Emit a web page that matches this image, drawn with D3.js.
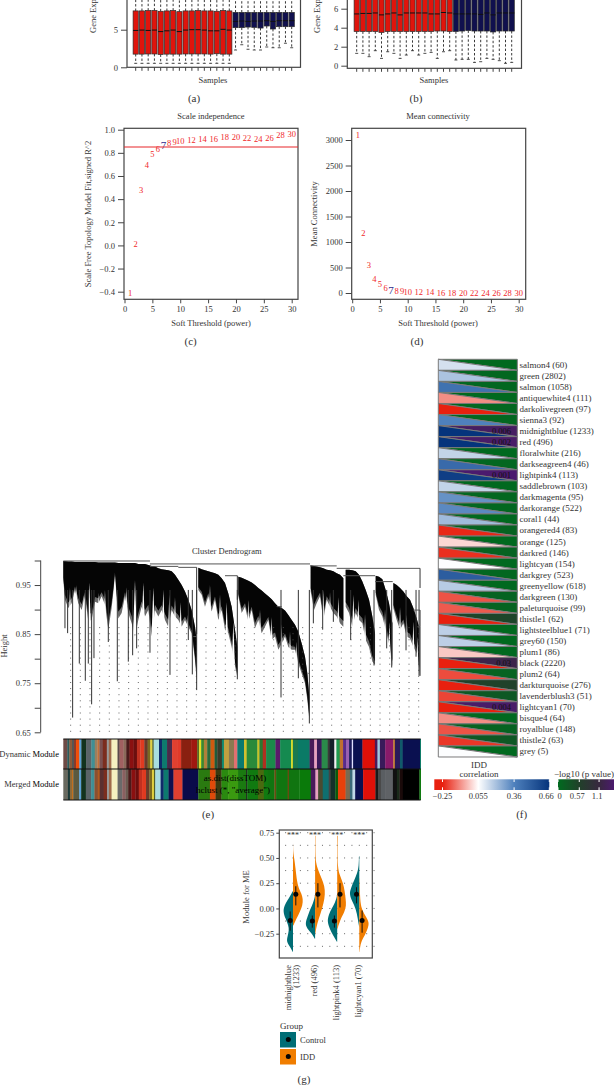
<!DOCTYPE html>
<html>
<head>
<meta charset="utf-8">
<script src="https://cdn.jsdelivr.net/npm/d3@7"></script>
<style>
  html, body { margin: 0; padding: 0; background: #fff; overflow: hidden; }
  svg { display: block; }
  text { font-family: "Liberation Serif", serif; fill: #333; font-size: 8.5px; }
  .tick line, .frame { stroke: #444; }
  .frame { fill: none; stroke-width: 1.2; }
  .caption { font-size: 11px; }
</style>
</head>
<body>
<svg id="chart" width="614" height="1085"></svg>
<script>
// Panel (a) and (b): boxplots, one value per sample
const aMedian = [4.9,4.95,4.9,4.95,4.75,4.85,4.95,4.75,4.95,5,5,4.95,4.85,4.85,5.05,4.95,6.1,6.15,6.1,6.15,6.15,6.2,6.1,6.2,6.2,6.2];
const aQ1 = [1.75,1.75,1.77,1.77,1.7,1.75,1.75,1.75,1.77,1.77,1.77,1.77,1.75,1.8,1.75,1.75,5.27,5.27,5.35,5.31,5.22,5.49,5.09,5.4,5.4,5.4];
const aQ3 = [7.5,7.5,7.55,7.55,7.45,7.5,7.55,7.4,7.5,7.5,7.55,7.5,7.5,7.45,7.55,7.5,7.3,7.3,7.3,7.3,7.3,7.3,7.3,7.3,7.3,7.3];
const aLow = [.53,.53,.53,.53,.53,.53,.53,.53,.53,.53,.53,.53,.53,.53,.53,.53,2.3,3,2.4,2.3,2.3,2.7,2.6,2.6,3.2,2.6];
const bMedian = [5.45,5.5,5.5,5.55,5.35,5.45,5.55,5.35,5.55,5.55,5.55,5.55,5.45,5.45,5.6,5.55,5.45,5.45,5.45,5.45,5.4,5.55,5.35,5.55,5.55,5.55];
const bQ1 = [3.6,3.6,3.6,3.6,3.5,3.6,3.6,3.6,3.6,3.6,3.6,3.6,3.6,3.65,3.65,3.6,3.6,3.65,3.7,3.65,3.65,3.65,3.55,3.65,3.65,3.65];
const bQ3 = [7.4,7.4,7.4,7.4,7.4,7.4,7.4,7.4,7.4,7.4,7.4,7.4,7.4,7.4,7.4,7.4,7.4,7.4,7.4,7.4,7.4,7.4,7.4,7.4,7.4,7.4];
const bLow = [1.3,1.3,.95,1.58,.77,1.47,1.3,.77,1.12,1.58,1.12,1.3,1.4,.77,1.47,1.58,.6,.67,.67,.35,.42,.77,.67,.53,.25,.35];
const redSamples = 16;

// Panel (c) and (d)
const powers = [1,2,3,4,5,6,7,8,9,10,12,14,16,18,20,22,24,26,28,30];
const scaleFit = [-.417,.01,.48,.695,.785,.83,.866,.88,.89,.9,.91,.917,.92,.935,.935,.93,.92,.93,.953,.96];
const meanConn = [3100,1170,540,280,170,100,60,40,30,18,8,6,5,4,3,2,2,1,1,1];

// Panel (e): dendrogram as [leaf, top height, bottom height]
const ridgeA = [[0,.999,.961],[5,.999,.92],[15,.998,.903],[25,.998,.913],[35,.997,.94],[45,.997,.913],[55,.997,.899],[65,.997,.927],[75,.997,.876],[85,.997,.879],[95,.997,.916],[105,.996,.913],[115,.996,.927],[125,.996,.91],[135,.996,.859],[145,.996,.903],[155,.996,.967],[165,.995,.882],[175,.995,.893],[185,.995,.927],[195,.995,.893],[205,.995,.872],[215,.995,.845],[225,.993,.879],[235,.993,.906],[245,.993,.886],[255,.991,.899],[265,.989,.845],[275,.988,.899],[285,.984,.886],[295,.982,.899],[305,.981,.879],[315,.98,.865],[325,.978,.899],[335,.971,.886],[345,.961,.879],[355,.95,.865],[365,.937,.879],[375,.92,.865],[385,.899,.852],[395,.865,.797],[400,.838,.756]];
const ridgeB = [[405,.985,.94],[415,.982,.93],[425,.98,.906],[435,.978,.927],[445,.976,.896],[455,.974,.92],[465,.971,.879],[475,.964,.899],[485,.954,.859],[495,.933,.852],[505,.906,.824],[515,.859,.784],[522,.824,.763]];
const ridgeC = [[525,.967,.927],[535,.965,.893],[545,.962,.906],[555,.959,.876],[565,.955,.899],[575,.95,.862],[585,.944,.879],[595,.939,.852],[605,.933,.865],[615,.927,.879],[625,.921,.838],[635,.913,.845],[645,.906,.818],[655,.903,.831],[665,.898,.845],[675,.889,.824],[685,.879,.818],[695,.869,.818],[705,.855,.79],[715,.831,.77],[725,.804,.75],[732,.77,.716],[738,.722,.675]];
const ridgeD = [[742,.99,.937],[752,.989,.899],[760,.988,.913],[770,.986,.927],[780,.984,.879],[790,.981,.92],[800,.98,.906],[810,.978,.893],[820,.974,.886],[830,.971,.872],[840,.964,.865]];
const ridgeE = [[847,.981,.906],[857,.981,.893],[867,.98,.865],[877,.978,.893],[887,.971,.879],[897,.957,.872],[907,.94,.838],[917,.92,.824],[927,.886,.794],[935,.852,.787]];
const ridgeF = [[937,.969,.93],[947,.967,.899],[957,.962,.886],[967,.94,.859],[977,.913,.831],[987,.872,.784]];
const ridgeG = [[990,.954,.903],[1000,.95,.879],[1010,.944,.859],[1020,.937,.872],[1030,.927,.845],[1040,.92,.841],[1050,.903,.824],[1060,.882,.811],[1068,.862,.77]];
// gaps between branches: [leaf, height the gap reaches up to]
const dendroGaps = [[20,.945],[40,.95],[60,.93],[78,.955],[105,.935],[125,.94],[155,.975],[190,.945],[215,.96],[240,.955],[270,.945],[300,.94],[318,.93],[335,.925],[352,.915],[372,.89],[440,.95],[470,.93],[490,.915],[510,.875],[555,.92],[590,.9],[625,.885],[655,.87],[680,.855],[700,.835],[780,.94],[800,.935],[825,.925],[870,.93],[885,.92],[905,.89],[965,.9],[978,.875],[1010,.905],[1030,.89],[1050,.875],[1062,.845]];
const dendroSpikes = [[5,.862],[13,.852],[28,.68],[48,.79],[66,.755],[75,.79],[85,.707],[92,.801],[135,.834],[162,.754],[195,.794],[208,.807],[220,.821],[260,.812],[320,.767],[375,.838],[387,.768],[400,.736],[522,.758],[653,.721],[705,.76],[738,.668],[932,.786],[985,.782],[1067,.765],[750,.872],[778,.859],[862,.838],[970,.821],[1028,.817],[1058,.804],[810,.875]];
const dendroJoins = [[0,260,.999],[260,740,.993],[820,1070,.984],[740,820,.989],[260,345,.988],[345,400,.986],[485,522,.969],[840,935,.969],[935,988,.957],[1050,1070,.899],[1062,1070,.865],[640,655,.906],[735,740,.77],[390,400,.845]];
const dendroDrops = [[1070,.984,.944],[1070,.899,.865],[1070,.865,.765],[400,.986,.85],[522,.969,.92]];

// Module colour bars as runs of [colour, leaves]
const dynamicRuns = [["#6e4a45",12],["#2a5a5a",6],["#8a5a3a",8],["#555555",6],["#8a3a2a",6],["#f04e0a",10],["#5aa0d8",6],["#12331e",14],["#5a6468",16],["#3f8f95",10],["#9a8060",8],["#c0703a",6],["#7a5050",10],["#7b2d1e",12],["#999999",6],["#a06a4a",8],["#f5f0c0",18],["#5a4a4a",6],["#a06060",12],["#8a6a5a",8],["#4a1a1a",10],["#8a1010",12],["#6b0f0f",10],["#c03020",10],["#e03a20",12],["#6a3a2a",10],["#7a6a20",8],["#e0d040",6],["#50602a",4],["#a8dde0",16],["#102a6a",9],["#0d7a6e",15],["#4a2a4a",15],["#e04030",15],["#e03a2a",12],["#8a2010",30],["#a01810",18],["#5a6a20",6],["#e8e020",6],["#3a8a30",8],["#b0803a",10],["#2a6a3a",10],["#d05a10",12],["#205a3a",8],["#3a3a2a",14],["#108a70",6],["#c0a040",15],["#8a7a50",15],["#e07070",10],["#0a7a70",20],["#d0c030",8],["#2a8a3a",32],["#c8c020",6],["#2a7a30",10],["#b03020",10],["#1a8a4a",28],["#5a1a6a",14],["#158a50",33],["#e0e020",5],["#1a7a50",15],["#0a7a66",35],["#4a1a5a",14],["#e8a0c0",8],["#3a1a5a",14],["#2a8a4a",18],["#3a3a3a",6],["#15202a",14],["#f0f0f0",6],["#209a50",10],["#c07030",10],["#5a2a8a",10],["#9a60b0",8],["#1a1a5a",8],["#e0e0ff",4],["#0a1050",28],["#e01008",37],["#4a1a5a",8],["#a0c8e0",7],["#3a1a5a",16],["#8a1a6a",24],["#c07a30",5],["#2a1a5a",15],["#105a6a",8],["#0a1050",52],["#0a7a66",2]];
const mergedRuns = [["#6a6a60",14],["#1a3a3a",6],["#8a6a3a",6],["#c07020",4],["#5a5a40",18],["#5aa0d8",6],["#12331e",14],["#5a6468",16],["#3f8f95",10],["#8a5030",10],["#b05a20",6],["#5a3030",12],["#7b2d1e",10],["#999999",6],["#a06a4a",8],["#f5f0c0",18],["#6a6a6a",14],["#8a6060",10],["#6a5a50",8],["#4a1a1a",10],["#8a1010",12],["#6b0f0f",10],["#c03020",10],["#e03a20",12],["#6a3a2a",10],["#7a6a20",8],["#e0d040",6],["#50602a",4],["#a8dde0",16],["#102a6a",9],["#0d7a6e",15],["#101050",15],["#e04030",27],["#0a0a4a",48],["#2a7a10",35],["#e04a0a",17],["#3a3a10",18],["#2a8a10",20],["#3a9a10",30],["#1a7a10",25],["#000000",3],["#107a10",32],["#4a6a10",18],["#107a10",12],["#107510",20],["#6a4a10",5],["#107510",35],["#6a4a10",4],["#107510",31],["#0a7a0a",35],["#4a1a5a",14],["#e8a0c0",8],["#4a4a30",14],["#0f6f6f",18],["#444444",6],["#15302a",14],["#0a5a0a",8],["#e8400a",23],["#7a6a50",13],["#3a6a7a",8],["#c0d8e8",8],["#0a1050",24],["#e01008",37],["#1a1a1a",8],["#4a4a4a",9],["#5a5e62",14],["#5f6266",22],["#111111",12],["#1a2a1a",8],["#1a0a0a",10],["#000000",50],["#107a10",4]];

// Panel (f)
const modules = ["salmon4 (60)","green (2802)","salmon (1058)","antiquewhite4 (111)","darkolivegreen (97)","sienna3 (92)","midnightblue (1233)","red (496)","floralwhite (216)","darkseagreen4 (46)","lightpink4 (113)","saddlebrown (103)","darkmagenta (95)","darkorange (522)","coral1 (44)","orangered4 (83)","orange (125)","darkred (146)","lightcyan (154)","darkgrey (523)","greenyellow (618)","darkgreen (130)","paleturquoise (99)","thistle1 (62)","lightsteelblue1 (71)","grey60 (150)","plum1 (86)","black (2220)","plum2 (64)","darkturquoise (276)","lavenderblush3 (51)","lightcyan1 (70)","bisque4 (64)","royalblue (148)","thistle2 (63)","grey (5)"];
const moduleCorr = [.13,.2,.42,-.1,-.25,.36,.66,.66,.16,.45,.62,.16,.32,.34,.22,-.24,0,-.23,.06,.5,.18,-.18,-.17,-.25,.17,.17,-.02,-.25,-.19,-.25,-.2,-.25,-.1,-.18,-.22,.06];
const moduleLogP = [.02,.05,.05,.02,.05,.05,1.4,1.45,.02,.05,1.5,.02,.05,.05,.02,.1,.02,.1,.02,.05,.02,.1,.1,.5,.02,.02,.02,1.2,.1,.55,.25,1.45,.02,.1,.25,.02];
const moduleP = {"midnightblue (1233)":"0.006","red (496)":"0.002","lightpink4 (113)":"0.001","black (2220)":"0.03","lightcyan1 (70)":"0.004"};
const corrStops = [-.25,.055,.36,.66];
const corrColors = ["#e8200f","#ffffff","#4f81bd","#05347c"];
const logPStops = [0,.57,1.1,1.5];
const logPColors = ["#006b1f","#21402a","#38283f","#4b1a6e"];

// Panel (g): half violins as [value, relative density]
const violinGroups = ["midnightblue","red","lightpink4","lightcyan1"];
const violinControl = [
  [[-.43,.02],[-.38,.3],[-.33,.65],[-.28,.55],[-.22,.4],[-.17,.45],[-.1,.75],[-.03,1],[.03,.85],[.08,.55],[.13,.25],[.17,.03]],
  [[-.3,.03],[-.25,.3],[-.2,.8],[-.15,1],[-.08,.75],[-.02,.55],[.03,.3],[.08,.12],[.12,.02]],
  [[-.33,.03],[-.27,.4],[-.2,.75],[-.13,1],[-.06,.85],[0,.55],[.06,.2],[.12,.03]],
  [[-.18,.02],[-.1,.15],[0,.35],[.07,.7],[.14,1],[.2,.85],[.28,.5],[.35,.2],[.42,.05],[.52,.03]]
];
const violinIDD = [
  [[-.17,.03],[-.1,.35],[-.03,.7],[.03,.95],[.09,1],[.15,.85],[.2,.55],[.3,.35],[.4,.25],[.5,.12],[.55,.02],[.65,0]],
  [[-.25,.02],[-.15,.2],[-.05,.55],[.05,.85],[.14,1],[.22,.95],[.3,.65],[.38,.3],[.45,.08],[.55,.03],[.72,.04]],
  [[-.2,.03],[-.1,.35],[-.03,.75],[.03,.9],[.09,.85],[.17,.75],[.25,.6],[.33,.25],[.4,.05],[.6,.04],[.72,.06]],
  [[-.43,.02],[-.33,.15],[-.27,.55],[-.2,.85],[-.14,1],[-.08,.65],[-.02,.3],[.05,.1],[.2,.05],[.3,.02]]
];
const controlMedian = [-.12,-.125,-.125,.14];
const controlRange = [[-.22,-.03],[-.19,-.07],[-.19,-.07],[.05,.21]];
const iddMedian = [.14,.14,.14,-.12];
const iddRange = [[.03,.22],[.01,.25],[.01,.25],[-.24,-.02]];

const svg = d3.select("#chart");

// Small helpers
function label(x, y, txt, opts = {}) {
  const t = svg.append("text")
    .attr("x", x).attr("y", y)
    .attr("text-anchor", opts.anchor || "middle")
    .text(txt);
  if (opts.size) t.style("font-size", opts.size + "px");
  if (opts.fill) t.style("fill", opts.fill);
  if (opts.cls) t.attr("class", opts.cls);
  return t;
}
function vlabel(x, y, txt, anchor = "middle") {
  return svg.append("text")
    .attr("transform", `translate(${x},${y}) rotate(-90)`)
    .attr("text-anchor", anchor)
    .text(txt);
}
function frame(x0, y0, x1, y1) {
  svg.append("rect").attr("class", "frame")
    .attr("x", x0).attr("y", y0).attr("width", x1 - x0).attr("height", y1 - y0);
}
function leftAxis(x, scale, ticks, fmt) {
  const g = svg.append("g").attr("transform", `translate(${x},0)`)
    .call(d3.axisLeft(scale).tickValues(ticks).tickSize(6).tickPadding(3).tickFormat(fmt || d3.format("")));
  g.select(".domain").remove();
  return g;
}
function bottomAxis(y, scale, ticks) {
  const g = svg.append("g").attr("transform", `translate(0,${y})`)
    .call(d3.axisBottom(scale).tickValues(ticks).tickSize(4).tickPadding(3).tickFormat(d3.format("")));
  g.select(".domain").remove();
  return g;
}

// Boxplots for (a) and (b)
function boxes(xRange, yScale, frameBottom, median, q1, q3, low) {
  const x = d3.scalePoint().domain(d3.range(median.length)).range(xRange);
  const g = svg.append("g");
  const boxW = 5.2;
  median.forEach((m, i) => {
    const cx = x(i);
    const fill = i < redSamples ? "#e0140c" : "#10104e";
    // whiskers run off the top of the page
    g.append("line").attr("x1", cx).attr("x2", cx).attr("y1", yScale(q3[i])).attr("y2", -5)
      .attr("stroke", "#222").attr("stroke-width", .9).attr("stroke-dasharray", "2.4,2");
    g.append("line").attr("x1", cx).attr("x2", cx).attr("y1", yScale(q1[i])).attr("y2", yScale(low[i]))
      .attr("stroke", "#222").attr("stroke-width", .9).attr("stroke-dasharray", "2.4,2");
    g.append("line").attr("x1", cx - 1.5).attr("x2", cx + 1.5).attr("y1", yScale(low[i])).attr("y2", yScale(low[i]))
      .attr("stroke", "#222").attr("stroke-width", .8);
    g.append("rect").attr("x", cx - boxW / 2).attr("width", boxW)
      .attr("y", yScale(q3[i])).attr("height", yScale(q1[i]) - yScale(q3[i]))
      .attr("fill", fill).attr("stroke", "#2a2a2a").attr("stroke-width", .7);
    g.append("line").attr("x1", cx - boxW / 2).attr("x2", cx + boxW / 2).attr("y1", yScale(m)).attr("y2", yScale(m))
      .attr("stroke", "#111").attr("stroke-width", 1);
    g.append("line").attr("x1", cx).attr("x2", cx).attr("y1", frameBottom).attr("y2", frameBottom + 3.5)
      .attr("stroke", "#444");
  });
}

// Panel (a)
const yA = d3.scaleLinear().domain([0, 5]).range([67.3, 29.7]);
boxes([135.7, 291.7], yA, 67.3, aMedian, aQ1, aQ3, aLow);
frame(127, -5, 300.5, 67.3);
leftAxis(127, yA, [0, 5]);
vlabel(96, 33, "Gene Exp", "start");
label(213, 83, "Samples");
label(194, 102, "(a)", { cls: "caption" });

// Panel (b)
const yB = d3.scaleLinear().domain([0, 6]).range([65.7, 8.7]);
boxes([356.7, 511.7], yB, 68.3, bMedian, bQ1, bQ3, bLow);
frame(347.3, -5, 521.5, 68.3);
leftAxis(347.3, yB, [0, 2, 4, 6]);
vlabel(320, 33, "Gene Exp", "start");
label(434, 83, "Samples");
label(416, 102, "(b)", { cls: "caption" });

// Power scatter for (c) and (d)
function powerPlot(x0, x1, title, titleX, yScale, yTicks, yTitle, yTitleX, values, yFmt) {
  const x = d3.scaleLinear().domain([0, 30]).range([x0 + 0.5, x1]);
  const right = x0 + 174;
  frame(x0, 128.3, right, 299.3);
  leftAxis(x0, yScale, yTicks, yFmt);
  bottomAxis(299.3, x, d3.range(0, 31, 5));
  label(titleX, 119, title);
  label(titleX, 326, "Soft Threshold (power)");
  vlabel(yTitleX, 214, yTitle);
  svg.append("g").selectAll("text").data(powers).join("text")
    .attr("x", d => x(d))
    .attr("y", (d, i) => yScale(values[i]))
    .attr("dy", "0.33em")
    .attr("text-anchor", "middle")
    .style("fill", d => d === 7 ? "#2c2c8c" : "#f0282a")
    .style("font-size", d => d === 7 ? "11px" : "8.5px")
    .text(d => d);
  return right;
}
const yC = d3.scaleLinear().domain([-.4, 1]).range([291.7, 129.7]);
const rightC = powerPlot(124, 291.7, "Scale independence", 211, yC, [-.4,-.2,0,.2,.4,.6,.8,1], "Scale Free Topology Model Fit,signed R^2", 91, scaleFit, d => d3.format(".1f")(d).replace("-", "\u2212"));
svg.append("line").attr("x1", 124).attr("x2", rightC).attr("y1", yC(.85)).attr("y2", yC(.85))
  .attr("stroke", "#e8262a").attr("stroke-width", 1.1);
label(190.7, 345, "(c)", { cls: "caption" });

const yD = d3.scaleLinear().domain([0, 3000]).range([293, 140]);
powerPlot(351.7, 518.7, "Mean connectivity", 438, yD, d3.range(0, 3001, 500), "Mean Connectivity", 317, meanConn);
label(417, 345, "(d)", { cls: "caption" });

// Panel (e)
const leafX = d3.scaleLinear().domain([0, 1072]).range([63.3, 420.7]);
const heightY = d3.scaleLinear().domain([.65, 1]).range([732.3, 560.5]);
const dendro = svg.append("g");

const ridges = [ridgeA, ridgeB, ridgeC, ridgeD, ridgeE, ridgeF, ridgeG];
const ridgeGrey = d3.area().x(d => leafX(d[0])).y0(d => heightY(d[2])).y1(d => heightY(d[1]));
const ridgeBlack = d3.area().x(d => leafX(d[0]))
  .y0(d => heightY(d[2] + (d[1] - d[2]) * .12)).y1(d => heightY(d[1]));
dendro.selectAll("path.grey").data(ridges).join("path").attr("class", "grey").attr("d", ridgeGrey).attr("fill", "#6a6a6a");
dendro.selectAll("path.black").data(ridges).join("path").attr("class", "black").attr("d", ridgeBlack).attr("fill", "#050505");
// white gaps between the branches
dendro.selectAll("path.gap").data(dendroGaps).join("path")
  .attr("class", "gap")
  .attr("d", d => `M${leafX(d[0] - 6)},${heightY(d[1] - .11)}L${leafX(d[0])},${heightY(d[1])}L${leafX(d[0] + 6)},${heightY(d[1] - .11)}Z`)
  .attr("fill", "#fff");
// dotted guides on top of the white
dendro.selectAll("line.guide").data(d3.range(22, 1072, 29)).join("line")
  .attr("class", "guide")
  .attr("x1", d => leafX(d)).attr("x2", d => leafX(d))
  .attr("y1", heightY(.651)).attr("y2", heightY(.87))
  .attr("stroke", "#555").attr("stroke-width", .9).attr("stroke-dasharray", "1,5.1");
dendro.selectAll("line.spike").data(dendroSpikes).join("line")
  .attr("class", "spike")
  .attr("x1", d => leafX(d[0])).attr("x2", d => leafX(d[0]))
  .attr("y1", d => heightY(.94)).attr("y2", d => heightY(d[1]))
  .attr("stroke", "#333").attr("stroke-width", 1);
dendro.selectAll("line.join").data(dendroJoins).join("line")
  .attr("class", "join")
  .attr("x1", d => leafX(d[0])).attr("x2", d => leafX(d[1]))
  .attr("y1", d => heightY(d[2])).attr("y2", d => heightY(d[2]))
  .attr("stroke", "#555").attr("stroke-width", 1);
dendro.selectAll("line.drop").data(dendroDrops).join("line")
  .attr("class", "drop")
  .attr("x1", d => leafX(d[0])).attr("x2", d => leafX(d[0]))
  .attr("y1", d => heightY(d[1])).attr("y2", d => heightY(d[2]))
  .attr("stroke", "#333").attr("stroke-width", 1);

const axisE = leftAxis(40.7, heightY, d3.range(.65, 1.01, .05), d => [.65, .75, .85, .95].some(v => Math.abs(v - d) < 1e-6) ? d3.format(".2f")(d) : "");
svg.append("line").attr("x1", 40.7).attr("x2", 40.7).attr("y1", heightY(1)).attr("y2", heightY(.65)).attr("stroke", "#444");
axisE.selectAll("text").attr("x", -10);
label(226.7, 554, "Cluster Dendrogram");
vlabel(7, 646, "Height");

function colourBar(runs, y0, y1) {
  const total = d3.sum(runs, d => d[1]);
  const x = d3.scaleLinear().domain([0, total]).range([63.3, 420.7]);
  let pos = 0;
  const cells = runs.map(d => { const c = { color: d[0], from: pos, to: pos + d[1] }; pos += d[1]; return c; });
  svg.append("g").selectAll("rect").data(cells).join("rect")
    .attr("x", d => x(d.from)).attr("width", d => x(d.to) - x(d.from) + .3)
    .attr("y", y0).attr("height", y1 - y0)
    .attr("fill", d => d.color);
}
colourBar(dynamicRuns, 739, 769);
colourBar(mergedRuns, 769, 800);
[739, 769, 800].forEach(y => {
  svg.append("line").attr("x1", 63.3).attr("x2", 420.7).attr("y1", y).attr("y2", y).attr("stroke", "#111").attr("stroke-width", 1.2);
});
[["Dynamic ", 757], ["Merged ", 787]].forEach(([word, y]) => {
  const t = label(59, y, word, { anchor: "end" });
  t.append("tspan").style("fill", "#000").text("Module");
});
label(235, 781, "as.dist(dissTOM)", { fill: "#000", size: 9 });
label(233, 793, "hclust (*, \"average\")", { fill: "#000", size: 9 });
label(208, 818, "(e)", { cls: "caption" });

// Panel (f)
const rowY = d3.scaleBand().domain(modules).range([359.3, 757]);
const cellX0 = 438.3, cellX1 = 517.3;
const corrColor = d3.scaleLinear().domain(corrStops).range(corrColors).clamp(true);
const logPColor = d3.scaleLinear().domain(logPStops).range(logPColors).clamp(true);
const heat = svg.append("g").selectAll("g").data(modules).join("g")
  .attr("transform", d => `translate(0,${rowY(d)})`);
const rh = rowY.bandwidth();
heat.append("path")
  .attr("d", `M${cellX0},0L${cellX1},0L${cellX1},${rh}Z`)
  .attr("fill", (d, i) => logPColor(moduleLogP[i]))
  .attr("stroke", "#7a7a7a").attr("stroke-width", 1);
heat.append("path")
  .attr("d", `M${cellX0},0L${cellX0},${rh}L${cellX1},${rh}Z`)
  .attr("fill", (d, i) => corrColor(moduleCorr[i]))
  .attr("stroke", "#7a7a7a").attr("stroke-width", 1);
heat.append("text").attr("x", 519.5).attr("y", rh / 2).attr("dy", "0.33em")
  .style("font-size", "9px").text(d => d);
heat.filter(d => moduleP[d]).append("text")
  .attr("x", 511).attr("y", rh / 2).attr("dy", "0.33em")
  .attr("text-anchor", "end").style("fill", "#111").style("font-size", "8.5px")
  .text(d => moduleP[d]);

// Legends of (f)
const defs = svg.append("defs");
function gradient(id, scale, colorScale, stops) {
  const g = defs.append("linearGradient").attr("id", id);
  const [lo, hi] = scale.domain();
  stops.forEach(s => g.append("stop")
    .attr("offset", (s - lo) / (hi - lo))
    .attr("stop-color", colorScale(s)));
}
const corrLegend = d3.scaleLinear().domain([-.32, .66]).range([434.3, 549.3]);
const pLegend = d3.scaleLinear().domain([0, 1.5]).range([558, 614]);
gradient("corrGrad", corrLegend, corrColor, [-.32, ...corrStops]);
gradient("pGrad", pLegend, logPColor, logPStops);
svg.append("rect").attr("x", 434.3).attr("y", 779.3).attr("width", 115).attr("height", 10.7).attr("fill", "url(#corrGrad)");
svg.append("rect").attr("x", 558).attr("y", 779.3).attr("width", 56).attr("height", 10.7).attr("fill", "url(#pGrad)");
[-.25, .055, .36, .66].forEach(v => {
  svg.append("line").attr("x1", corrLegend(v)).attr("x2", corrLegend(v)).attr("y1", 779.3).attr("y2", 782).attr("stroke", "#fff");
  svg.append("line").attr("x1", corrLegend(v)).attr("x2", corrLegend(v)).attr("y1", 787.3).attr("y2", 790).attr("stroke", "#fff");
  label(corrLegend(v) - (v === .66 ? 3 : 0), 799, d3.format(v === .055 ? ".3f" : ".2f")(v).replace("-", "\u2212"));
});
[0, .57, 1.1].forEach(v => {
  svg.append("line").attr("x1", pLegend(v)).attr("x2", pLegend(v)).attr("y1", 779.3).attr("y2", 782).attr("stroke", "#fff");
  svg.append("line").attr("x1", pLegend(v)).attr("x2", pLegend(v)).attr("y1", 787.3).attr("y2", 790).attr("stroke", "#fff");
  label(pLegend(v) + (v === 0 ? 1.5 : -2), 799, v);
});
label(479, 768, "IDD", { size: 9 });
label(479, 777, "correlation", { size: 9 });
label(584, 777, "\u2212log10 (p value)", { size: 9 });
label(521.7, 818, "(f)", { cls: "caption" });

// Panel (g)
const xG = d3.scalePoint().domain(violinGroups).range([293, 359.3]);
const yG = d3.scaleLinear().domain([-.25, .75]).range([933.7, 832.7]);
const gridX = d3.range(-1, 12).map(k => 293 + (k * 66.3) / 9);
const gridY = d3.range(-.375, .76, .125);
svg.append("g").selectAll("rect").data(d3.cross(gridX, gridY)).join("rect")
  .attr("x", d => d[0] - .5).attr("y", d => yG(d[1]) - .5)
  .attr("width", 1).attr("height", 1).attr("fill", "#666");
const densityW = d3.scaleLinear().domain([0, 1]).range([0, 10]);
function halfViolin(data, group, side, fill) {
  const cx = xG(group);
  svg.append("path").datum(data)
    .attr("d", d3.area().curve(d3.curveBasis)
      .y(d => yG(d[0]))
      .x0(cx)
      .x1(d => cx + side * densityW(d[1])))
    .attr("fill", fill);
}
violinGroups.forEach((group, i) => {
  const cx = xG(group);
  halfViolin(violinControl[i], group, -1, "#006d75");
  halfViolin(violinIDD[i], group, 1, "#f07d00");
  [[controlMedian[i], controlRange[i], -2.8], [iddMedian[i], iddRange[i], 2.8]].forEach(([m, r, dx]) => {
    svg.append("line").attr("x1", cx + dx).attr("x2", cx + dx).attr("y1", yG(r[0])).attr("y2", yG(r[1]))
      .attr("stroke", "#111").attr("stroke-width", 1);
    svg.append("circle").attr("cx", cx + dx).attr("cy", yG(m)).attr("r", 2.5).attr("fill", "#050505");
  });
  label(cx, yG(.72) + 2.5, "***", { size: 8 });
});
frame(279.3, 830, 372.3, 958);
const axisG = leftAxis(279.3, yG, [-.25, 0, .25, .5, .75], d => d3.format(".2f")(d).replace("-", "\u2212"));
axisG.selectAll("line").attr("x2", -3);
axisG.selectAll("text").attr("x", -5);
vlabel(249, 897, "Module for ME");
vlabel(290.5, 965, "midnightblue", "end");
vlabel(298.5, 965, "(1233)", "end");
vlabel(317, 965, "red (496)", "end");
vlabel(339, 965, "lightpink4 (113)", "end");
vlabel(361, 965, "lightcyan1 (70)", "end");
label(280, 1029, "Group", { anchor: "start", size: 9 });
[["Control", "#006d75", 1032], ["IDD", "#f07d00", 1049]].forEach(([name, fill, y]) => {
  svg.append("rect").attr("x", 280).attr("y", y).attr("width", 16).attr("height", 15.5).attr("fill", fill);
  svg.append("circle").attr("cx", 288.3).attr("cy", y + 7.5).attr("r", 2.5).attr("fill", "#050505");
  label(300, y + 11, name, { anchor: "start" });
});
label(304, 1083, "(g)", { cls: "caption" });
</script>
</body>
</html>
